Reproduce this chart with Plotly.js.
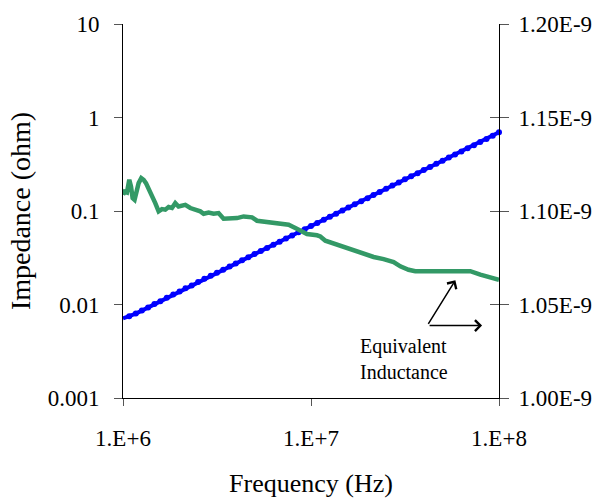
<!DOCTYPE html>
<html>
<head>
<meta charset="utf-8">
<script src="https://cdn.plot.ly/plotly-3.0.1.min.js"></script>
<style>html,body{margin:0;padding:0;background:#fff;}#chart{width:599px;height:498px;}</style>
</head>
<body>
<div id="chart"></div>
<script>
// Impedance |Z| (ohm) vs frequency (Hz) — blue series, left log axis
const freqZ = [1.00e6,1.08e6,1.17e6,1.26e6,1.36e6,1.47e6,1.58e6,1.71e6,1.85e6,2.00e6,2.15e6,2.32e6,2.51e6,2.71e6,2.93e6,3.16e6,3.41e6,3.69e6,3.98e6,4.30e6,4.64e6,5.01e6,5.41e6,5.84e6,6.31e6,6.81e6,7.36e6,7.94e6,8.58e6,9.26e6,
  1.00e7,1.08e7,1.17e7,1.26e7,1.36e7,1.47e7,1.58e7,1.71e7,1.85e7,2.00e7,2.15e7,2.32e7,2.51e7,2.71e7,2.93e7,3.16e7,3.41e7,3.69e7,3.98e7,4.30e7,4.64e7,5.01e7,5.41e7,5.84e7,6.31e7,6.81e7,7.36e7,7.94e7,8.58e7,9.26e7,1.00e8];
const impedance = [0.0071,0.0075,0.0080,0.0086,0.0093,0.0101,0.0108,0.0118,0.0128,0.0138,0.0149,0.0160,0.0174,0.0188,0.0203,0.0219,0.0236,0.0255,0.0275,0.0297,0.0321,0.0346,0.0374,0.0403,0.0436,0.0470,0.0508,0.0548,0.0592,0.0639,
  0.0690,0.0745,0.0804,0.0866,0.0935,0.101,0.109,0.118,0.127,0.137,0.148,0.160,0.173,0.187,0.202,0.218,0.235,0.254,0.274,0.296,0.320,0.345,0.373,0.402,0.434,0.469,0.506,0.546,0.590,0.637,0.695];

// Equivalent inductance (H) vs frequency — green series, right linear axis
const freqL = [1.000e6,1.020e6,1.050e6,1.080e6,1.103e6,1.125e6,1.152e6,1.187e6,1.211e6,1.251e6,1.287e6,1.325e6,1.368e6,1.427e6,1.485e6,1.547e6,1.612e6,1.679e6,1.748e6,1.822e6,1.897e6,1.975e6,2.060e6,2.145e6,2.280e6,2.424e6,2.578e6,2.684e6,2.854e6,3.033e6,3.225e6,3.428e6,3.722e6,4.041e6,4.381e6,4.856e6,5.162e6,5.596e6,5.950e6,6.595e6,7.602e6,8.252e6,8.772e6,9.522e6,1.076e7,1.121e7,1.192e7,1.347e7,1.491e7,1.685e7,1.905e7,2.153e7,2.434e7,2.751e7,2.985e7,3.304e7,3.587e7,7.036e7,7.953e7,8.989e7,1.000e8];
const inductance = [1.1087e-9,1.1104e-9,1.1099e-9,1.1167e-9,1.1131e-9,1.1069e-9,1.1060e-9,1.1113e-9,1.1149e-9,1.1176e-9,1.1167e-9,1.1149e-9,1.1122e-9,1.1078e-9,1.1042e-9,1.0998e-9,1.1010e-9,1.1007e-9,1.1021e-9,1.1016e-9,1.1042e-9,1.1024e-9,1.1028e-9,1.1033e-9,1.1016e-9,1.1010e-9,1.0998e-9,1.0985e-9,1.0992e-9,1.0985e-9,1.0989e-9,1.0959e-9,1.0959e-9,1.0962e-9,1.0971e-9,1.0966e-9,1.0948e-9,1.0944e-9,1.0936e-9,1.0930e-9,1.0927e-9,1.0909e-9,1.0894e-9,1.0877e-9,1.0870e-9,1.0864e-9,1.0841e-9,1.0823e-9,1.0802e-9,1.0788e-9,1.0770e-9,1.0754e-9,1.0743e-9,1.0727e-9,1.0704e-9,1.0686e-9,1.0678e-9,1.0678e-9,1.0660e-9,1.0642e-9,1.0632e-9];

// Tick labels
const xTickVals = [1e6, 1e7, 1e8];
const xTickText = ['1.E+6', '1.E+7', '1.E+8'];
const yTickVals = [0.001, 0.01, 0.1, 1, 10];
const yTickText = ['0.001', '0.01', '0.1', '1', '10'];
const y2TickVals = [1.00e-9, 1.05e-9, 1.10e-9, 1.15e-9, 1.20e-9];
const y2TickText = ['1.00E-9', '1.05E-9', '1.10E-9', '1.15E-9', '1.20E-9'];

const FONT = 'Liberation Serif, Times New Roman, serif';

const traces = [
  {x: freqL, y: inductance, yaxis: 'y2', mode: 'lines', line: {color: '#339966', width: 4.5}, cliponaxis: false, hoverinfo: 'none'},
  {x: freqZ, y: impedance, yaxis: 'y', mode: 'lines+markers', line: {color: '#0000FF', width: 4}, marker: {color: '#0000FF', size: 6}, cliponaxis: false, hoverinfo: 'none'},
  {x: [], y: [], yaxis: 'y3', mode: 'lines', hoverinfo: 'none'}
];

const layout = {
  width: 599, height: 498,
  margin: {l: 123, r: 100, t: 24, b: 100, pad: 0},
  paper_bgcolor: '#fff', plot_bgcolor: '#fff',
  showlegend: false,
  font: {family: FONT, size: 23, color: '#000'},
  xaxis: {
    type: 'log', range: [6, 8], tickvals: xTickVals, ticktext: xTickText,
    ticks: 'outside', ticklen: 7, tickcolor: '#555', tickwidth: 1,
    showline: true, linecolor: '#000', linewidth: 1, showgrid: false, zeroline: false,
    tickfont: {family: FONT, size: 23}, ticklabelstandoff: 12,
    title: {text: 'Frequency (Hz)', font: {family: FONT, size: 26}, standoff: 24}
  },
  yaxis: {
    type: 'log', range: [-3, 1], tickvals: yTickVals, ticktext: yTickText,
    ticks: 'outside', ticklen: 8, tickcolor: '#555', tickwidth: 1,
    showline: true, linecolor: '#000', linewidth: 1, showgrid: false, zeroline: false,
    tickfont: {family: FONT, size: 23}, ticklabelstandoff: 10,
    title: {text: 'Impedance (ohm)', font: {family: FONT, size: 28}, standoff: 8}
  },
  yaxis2: {
    overlaying: 'y', side: 'right', anchor: 'x', range: [1.0e-9, 1.2e-9],
    tickvals: y2TickVals, ticktext: y2TickText,
    ticks: 'outside', ticklen: 9, tickcolor: '#555', tickwidth: 1,
    showline: true, linecolor: '#000', linewidth: 1, showgrid: false, zeroline: false,
    tickfont: {family: FONT, size: 23}, ticklabelstandoff: 5
  },
  yaxis3: {
    overlaying: 'y', side: 'right', anchor: 'x', range: [1.0e-9, 1.2e-9],
    tickvals: y2TickVals, showticklabels: false,
    ticks: 'inside', ticklen: 9, tickcolor: '#555', tickwidth: 1,
    showline: false, showgrid: false, zeroline: false
  },
  annotations: [
    {xref: 'paper', yref: 'paper', x: 0.884, y: 0.3146, ax: -28, ay: 45, axref: 'pixel', ayref: 'pixel',
     showarrow: true, arrowhead: 4, arrowsize: 1.4, arrowwidth: 1.5, arrowcolor: '#000', text: ''},
    {xref: 'paper', yref: 'paper', x: 0.955, y: 0.1936, ax: -54, ay: 0, axref: 'pixel', ayref: 'pixel',
     showarrow: true, arrowhead: 4, arrowsize: 1.4, arrowwidth: 1.5, arrowcolor: '#000', text: ''},
    {xref: 'paper', yref: 'paper', x: 0.624, y: 0.175, xanchor: 'left', yanchor: 'top', align: 'left',
     showarrow: false, text: 'Equivalent<br>Inductance', font: {family: FONT, size: 20, color: '#000'}}
  ]
};

Plotly.newPlot('chart', traces, layout, {staticPlot: true, displayModeBar: false});
</script>
</body>
</html>
